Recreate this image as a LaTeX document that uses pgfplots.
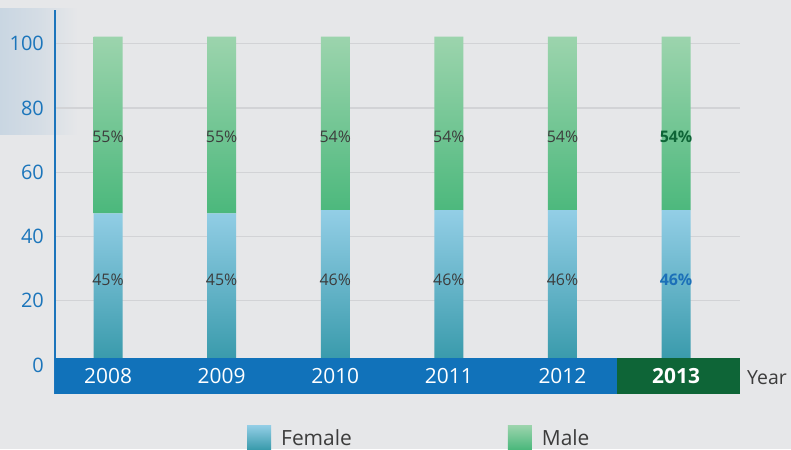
\documentclass[border=0pt]{standalone}
\usepackage{pgfplots}
\pgfplotsset{compat=1.18}
\usepackage{fontspec}
\setmainfont{Open Sans}
\definecolor{bg}{HTML}{E6E7E9}
\definecolor{panel}{HTML}{C9D6E2}
\definecolor{gridc}{HTML}{D2D3D6}
\definecolor{axisblue}{HTML}{1C75BC}
\definecolor{tickblue}{HTML}{1B75BB}
\definecolor{bandblue}{HTML}{1172BA}
\definecolor{bandgreen}{HTML}{0E6537}
\definecolor{femtop}{HTML}{93CEE6}
\definecolor{fembot}{HTML}{3A9BAC}
\definecolor{maletop}{HTML}{9CD4AD}
\definecolor{malebot}{HTML}{4BB87C}
\definecolor{labgray}{HTML}{3C3C3C}
\definecolor{lab13blue}{HTML}{1C70B8}
\tikzset{pct/.style={font=\fontsize{16}{18}\selectfont, text=labgray},
  yr/.style={font=\fontsize{21}{24}\selectfont, text=white, anchor=base, inner sep=0pt}}
\begin{document}
\begin{tikzpicture}
\fill[bg] (0,0) rectangle (791bp,449bp);
\shade[left color=panel, right color=bg, middle color=panel!60!bg] (0,314bp) rectangle (78bp,440bp);
\begin{axis}[
  at={(55bp,55bp)}, anchor=south west,
  scale only axis, width=685bp, height=384bp,
  xmin=-0.467, xmax=5.563, ymin=-9.03, ymax=110.5,
  ybar stacked, bar width=29bp,
  axis lines=left, axis line style={-},
  x axis line style={draw=none},
  y axis line style={draw=axisblue, line width=2.5bp},
  major tick length=0pt, tick style={draw=none},
  ymajorgrids, grid style={gridc, line width=1.2bp},
  ytick={0,20,...,100},
  /pgf/number format/assume math mode=true,
  yticklabel style={font=\fontsize{20}{24}\selectfont, text=tickblue, inner sep=0pt, anchor=east, xshift=-11bp},
  xtick={0,1,2,3,4,5},
  xticklabels={},
  xlabel={Year},
  xlabel style={at={(axis description cs:1,0)}, anchor=base west, inner sep=0pt, xshift=7bp, yshift=10bp, font=\fontsize{19.5}{24}\selectfont, text=labgray},
  legend columns=2,
  legend image code/.code={\fill[#1] (0bp,-4bp) rectangle (24bp,20bp);},
  legend style={draw=none, fill=none, inner sep=0pt, at={(axis description cs:0.2803,-0.0807)}, anchor=north west,
    font=\fontsize{21}{24}\selectfont, text=labgray,
    cells={anchor=base west}, nodes={inner sep=0pt},
    /tikz/every odd column/.append style={column sep=10bp},
    /tikz/every even column/.append style={column sep=156bp}},
]
\addplot[draw=none, fill=none, forget plot] coordinates {(0,2.2) (1,2.2) (2,2.2) (3,2.2) (4,2.2) (5,2.2)};
\addplot[draw=none, top color=femtop, bottom color=fembot] coordinates {(0,45) (1,45) (2,46) (3,46) (4,46) (5,46)};
\addlegendentry{Female}
\addplot[draw=none, top color=maletop, bottom color=malebot] coordinates {(0,55) (1,55) (2,54) (3,54) (4,54) (5,54)};
\addlegendentry{Male}
\coordinate (bandA) at (axis cs:-0.467,-9.03);
\coordinate (bandB) at (axis cs:4.48,2.2);
\coordinate (bandC) at (axis cs:4.48,-9.03);
\coordinate (bandD) at (axis cs:5.563,2.2);
\coordinate (y0) at (axis cs:0,-5.9);
\coordinate (y1) at (axis cs:1,-5.9);
\coordinate (y2) at (axis cs:2,-5.9);
\coordinate (y3) at (axis cs:3,-5.9);
\coordinate (y4) at (axis cs:4,-5.9);
\coordinate (y5) at (axis cs:5,-5.9);
\coordinate (m0) at (axis cs:0,71);
\coordinate (m1) at (axis cs:1,71);
\coordinate (m2) at (axis cs:2,71);
\coordinate (m3) at (axis cs:3,71);
\coordinate (m4) at (axis cs:4,71);
\coordinate (m5) at (axis cs:5,71);
\coordinate (f0) at (axis cs:0,26.4);
\coordinate (f1) at (axis cs:1,26.4);
\coordinate (f2) at (axis cs:2,26.4);
\coordinate (f3) at (axis cs:3,26.4);
\coordinate (f4) at (axis cs:4,26.4);
\coordinate (f5) at (axis cs:5,26.4);
\end{axis}
\fill[bandblue] (bandA) rectangle (bandB);
\fill[bandgreen] (bandC) rectangle (bandD);
\node[yr] at (y0) {2008};
\node[yr] at (y1) {2009};
\node[yr] at (y2) {2010};
\node[yr] at (y3) {2011};
\node[yr] at (y4) {2012};
\node[yr, font=\fontsize{21}{24}\selectfont\bfseries] at (y5) {2013};
\node[pct] at (m0) {55\%};
\node[pct] at (m1) {55\%};
\node[pct] at (m2) {54\%};
\node[pct] at (m3) {54\%};
\node[pct] at (m4) {54\%};
\node[pct] at (f0) {45\%};
\node[pct] at (f1) {45\%};
\node[pct] at (f2) {46\%};
\node[pct] at (f3) {46\%};
\node[pct] at (f4) {46\%};
\node[pct, font=\fontsize{16}{18}\selectfont\bfseries, text=bandgreen] at (m5) {54\%};
\node[pct, font=\fontsize{16}{18}\selectfont\bfseries, text=lab13blue] at (f5) {46\%};
\end{tikzpicture}
\end{document}
